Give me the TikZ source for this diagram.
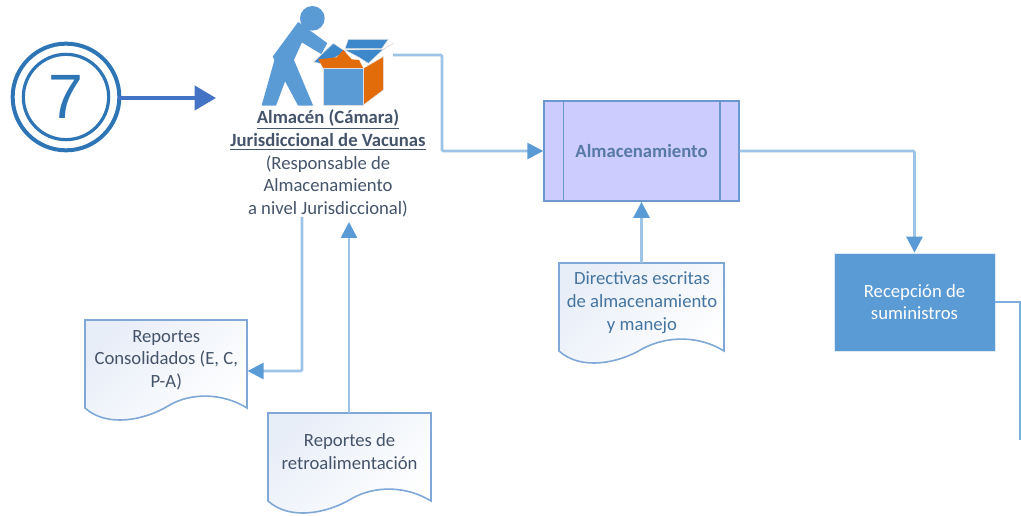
\documentclass[tikz,border=0pt]{standalone}
\usepackage{fontspec}
\setmainfont{Carlito}
\newfontfamily\numfont{Liberation Sans}
\usetikzlibrary{arrows.meta,shadows,calc}
\definecolor{lineblue}{HTML}{9DC3E6}
\definecolor{tipblue}{HTML}{5B9BD5}
\definecolor{docedge}{HTML}{7FA8D6}
\definecolor{ringblue}{HTML}{2E75B6}
\definecolor{callblue}{HTML}{4472C4}
\definecolor{labeldark}{HTML}{44546A}
\definecolor{procfill}{HTML}{CCCCFF}
\definecolor{procedge}{HTML}{6C97CF}
\definecolor{docfill}{HTML}{E8EEF8}
\definecolor{boxorange}{HTML}{E36C0A}
\definecolor{flapblue}{HTML}{3D87CB}
\tikzset{
  x=0.75pt,y=-0.75pt,
  flow/.style={draw=lineblue,line width=2pt,rounded corners=1pt},
  flowtip/.style={flow,-{Triangle[length=12pt,width=12pt,color=tipblue]}},
  docbox/.style={minimum width=122pt,inner sep=0pt,anchor=north west,align=center,font=\fontsize{14}{17}\selectfont},
  docline/.style={draw=docedge,line width=1.2pt,left color=docfill,right color=white,shading angle=45},
  person/.style={fill=tipblue,draw=tipblue,line width=.8pt,line join=round},
}
\newcommand{\docshape}[3]{%
  % #1 left, #2 top, #3 right : wavy document outline
  \draw[docline] (#1,#2+88) -- (#1,#2) -- (#3,#2) -- (#3,#2+88)
    .. controls ($(#3-24,#2+73)$) and ($(#3-56,#2+72)$) .. ($(#1+83,#2+86)$)
    .. controls ($(#1+60,#2+100)$) and ($(#1+22,#2+108)$) .. (#1,#2+88) -- cycle;}
\begin{document}
\begin{tikzpicture}
\useasboundingbox (0,0) rectangle (1021,516);

% circled seven
\node[circle,draw=ringblue,line width=3pt,minimum size=80pt,inner sep=0pt] (seven) at (66,97) {};
\node[circle,draw=ringblue,line width=2.4pt,minimum size=64pt,inner sep=0pt,
      font=\fontsize{47}{47}\selectfont\numfont,text=ringblue] (sevenin) at (66,97) {7};

% worker and box icon
\begin{scope}[shift={(255,0)},x=0.25pt,y=-0.25pt]
  \fill[tipblue] (172,55) circle [radius=37];
  \path[person] (130,68) -- (215,130) -- (198,160) -- (140,125) -- (115,180)
     -- (172,315) -- (130,315) -- (90,240) -- (62,315) -- (22,315) -- (60,180) -- (55,170) -- cycle;
  \path[fill=flapblue,draw=white!75!gray,line width=.4pt] (176,186) -- (235,130) -- (272,155) -- (205,192) -- cycle;
  \path[fill=flapblue,draw=white!75!gray,line width=.4pt] (280,118) -- (400,118) -- (380,146) -- (270,146) -- cycle;
  \path[fill=boxorange] (190,178) -- (245,172) -- (265,150) -- (290,178) -- (312,180) -- (325,205) -- (205,205) -- cycle;
  \path[fill=flapblue,draw=white!75!gray,line width=.4pt] (270,150) -- (385,148) -- (340,190) -- (312,172) -- cycle;
  \draw[white!70!gray,line width=.6pt] (385,148) -- (415,130);
  \path[fill=boxorange,draw=white!75!gray,line width=.4pt] (325,205) -- (385,170) -- (385,270) -- (325,315) -- cycle;
  \path[fill=tipblue,draw=white!75!gray,line width=.6pt] (205,205) rectangle (325,315);
\end{scope}
\coordinate (iconout) at (393,55);

% labels and boxes
\node[align=center,text=labeldark,inner sep=0pt,font=\fontsize{14}{16.8}\selectfont] (store) at (328,163)
 {{\bfseries\underline{Almacén (Cámara)}}\\[1pt]
  {\bfseries\underline{Jurisdiccional de Vacunas}}\\
  (Responsable de\\ Almacenamiento\\ a nivel Jurisdiccional)};

\node[rectangle,draw=procedge,fill=procfill,line width=1.3pt,minimum width=146pt,minimum height=75pt,
      inner sep=0pt,text=procedge!80!black,font=\bfseries\fontsize{14}{17}\selectfont] (proc) at (641.5,151) {Almacenamiento};
\draw[procedge,line width=1.2pt] ([xshift=15pt]proc.north west) -- ([xshift=15pt]proc.south west);
\draw[procedge,line width=1.2pt] ([xshift=-15pt]proc.north east) -- ([xshift=-15pt]proc.south east);

\node[rectangle,fill=tipblue,draw=white!80!tipblue,line width=.5pt,minimum width=120.5pt,minimum height=73.5pt,inner sep=0pt,
      drop shadow={shadow xshift=1pt,shadow yshift=-1pt,fill=gray,opacity=.35},
      text=white,align=center,font=\fontsize{14}{17}\selectfont] (recv) at (914.5,302) {Recepción de\\ suministros};
\coordinate (recvend) at (1020,440);

% documents
\docshape{85}{320}{247}
\node[docbox,minimum height=60pt,minimum width=121.5pt,text=labeldark] (rep1) at (85,320) {Reportes\\ Consolidados (E, C,\\ P-A)};
\docshape{268}{413}{431}
\node[docbox,minimum height=57pt,text=labeldark] (rep2) at (268,413) {Reportes de\\ retroalimentación};
\docshape{559}{263}{724}
\node[docbox,minimum height=59pt,minimum width=124pt,text=tipblue!75!black] (dir) at (559,263) {Directivas escritas\\ de almacenamiento\\ y manejo};

% connectors
\draw[callblue,line width=3pt,-{Triangle[length=16pt,width=18pt]}] (seven.east) ++(-3,1) -- (216,98);
\draw[flow,-{Triangle[length=12pt,width=12pt,color=tipblue]}] (iconout) -| (442,151) -- (proc.west);
\draw[flowtip] (proc.east) -| (recv.north);
\draw[draw=tipblue!80!white,line width=1.5pt] (recv.east) -| (recvend);
\draw[flowtip] (store.south -| 302,227) |- (rep1.east |- 0,371);
\draw[flowtip] (rep2.north -| 349,413) -- (349,222);
\draw[flowtip] (dir.north -| proc.south) -- (proc.south);
\end{tikzpicture}
\end{document}
